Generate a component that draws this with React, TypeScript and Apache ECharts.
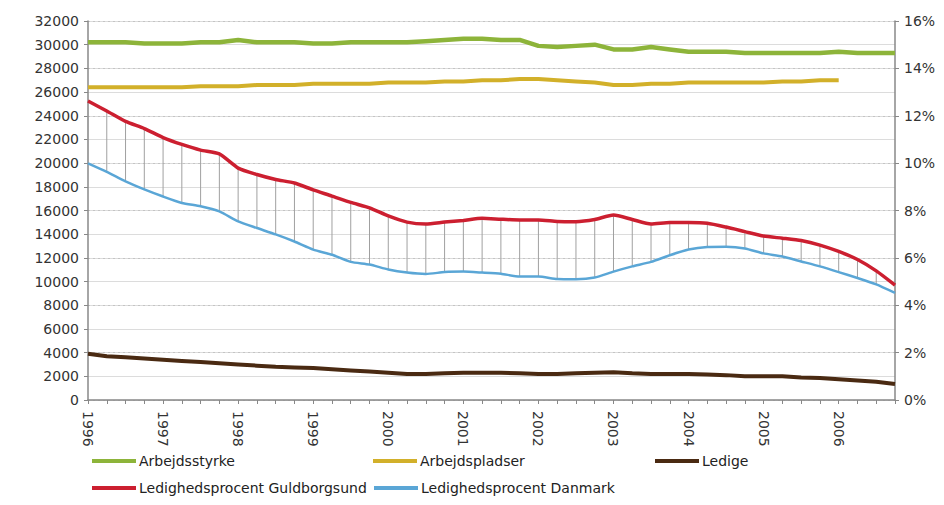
import React, { useEffect, useRef } from "react";
import * as echarts from "echarts";

const YEARS = ["1996", "1997", "1998", "1999", "2000", "2001", "2002", "2003", "2004", "2005", "2006"];
const QUARTERS = ["K1", "K2", "K3", "K4"];
const CATEGORIES = YEARS.flatMap((y) => QUARTERS.map((q) => `${y} ${q}`));

// Left axis (persons)
const ARBEJDSSTYRKE = [
  30200, 30200, 30200, 30100, 30100, 30100, 30200, 30200, 30400, 30200, 30200,
  30200, 30100, 30100, 30200, 30200, 30200, 30200, 30300, 30400, 30500, 30500,
  30400, 30400, 29900, 29800, 29900, 30000, 29600, 29600, 29800, 29600, 29400,
  29400, 29400, 29300, 29300, 29300, 29300, 29300, 29400, 29300, 29300, 29300,
];
const ARBEJDSPLADSER = [
  26400, 26400, 26400, 26400, 26400, 26400, 26500, 26500, 26500, 26600, 26600,
  26600, 26700, 26700, 26700, 26700, 26800, 26800, 26800, 26900, 26900, 27000,
  27000, 27100, 27100, 27000, 26900, 26800, 26600, 26600, 26700, 26700, 26800,
  26800, 26800, 26800, 26800, 26900, 26900, 27000, 27000, null, null, null,
];
const LEDIGE = [
  3900, 3700, 3600, 3500, 3400, 3300, 3200, 3100, 3000, 2900, 2800, 2750, 2700,
  2600, 2500, 2400, 2300, 2200, 2200, 2250, 2300, 2300, 2300, 2250, 2200, 2200,
  2250, 2300, 2350, 2250, 2200, 2200, 2200, 2150, 2100, 2000, 2000, 2000, 1900,
  1850, 1750, 1650, 1550, 1350,
];
// Right axis (percent)
const PCT_GULDBORGSUND = [
  12.62, 12.2, 11.76, 11.46, 11.08, 10.79, 10.55, 10.39, 9.79, 9.52, 9.31, 9.16,
  8.87, 8.61, 8.34, 8.11, 7.77, 7.51, 7.43, 7.51, 7.58, 7.67, 7.63, 7.6, 7.6,
  7.54, 7.53, 7.62, 7.81, 7.62, 7.43, 7.49, 7.49, 7.46, 7.3, 7.11, 6.92, 6.83,
  6.73, 6.54, 6.27, 5.93, 5.45, 4.85,
];
const PCT_DANMARK = [
  9.99, 9.63, 9.23, 8.89, 8.59, 8.32, 8.18, 7.96, 7.54, 7.26, 6.99, 6.69, 6.35,
  6.13, 5.83, 5.72, 5.51, 5.38, 5.32, 5.4, 5.42, 5.38, 5.33, 5.21, 5.21, 5.11,
  5.1, 5.17, 5.42, 5.64, 5.83, 6.11, 6.35, 6.46, 6.47, 6.4, 6.19, 6.06, 5.85,
  5.64, 5.4, 5.15, 4.88, 4.52,
];

const FONT = "DejaVu Sans";

export default function App() {
  const ref = useRef<HTMLDivElement>(null);
  useEffect(() => {
    if (!ref.current) return;
    const chart = echarts.init(ref.current, null, { renderer: "svg" });
    const dropData = CATEGORIES.map((_, i) => [i, PCT_GULDBORGSUND[i], PCT_DANMARK[i]]);
    const legendBase = {
      icon: "rect",
      itemWidth: 44,
      itemHeight: 4,
      padding: 0,
      textStyle: { fontFamily: FONT, fontSize: 14, color: "#222", padding: [0, 0, 0, -2] },
    };
    chart.setOption({
      animation: false,
      backgroundColor: "#ffffff",
      grid: { left: 88, right: 49, top: 21, bottom: 105 },
      legend: [
        { ...legendBase, data: ["Arbejdsstyrke"], left: 92, top: 454 },
        { ...legendBase, data: ["Arbejdspladser"], left: 373, top: 454 },
        { ...legendBase, data: ["Ledige"], left: 655, top: 454 },
        { ...legendBase, data: ["Ledighedsprocent Guldborgsund"], left: 92, top: 481 },
        { ...legendBase, data: ["Ledighedsprocent Danmark"], left: 374, top: 481 },
      ],
      xAxis: {
        type: "category",
        data: CATEGORIES,
        boundaryGap: false,
        axisLine: { lineStyle: { color: "#888", width: 1.5 } },
        axisTick: { show: true, interval: 0, length: 4, lineStyle: { color: "#888" } },
        axisLabel: {
          interval: 3,
          rotate: -90,
          formatter: (v: string) => v.split(" ")[0],
          fontFamily: FONT,
          fontSize: 14,
          color: "#333",
          margin: 11,
        },
        splitLine: { show: false },
      },
      yAxis: [
        {
          type: "value",
          min: 0,
          max: 32000,
          interval: 2000,
          axisLine: { show: true, lineStyle: { color: "#888", width: 1.5 } },
          axisTick: { show: true, length: 4, lineStyle: { color: "#888" } },
          axisLabel: {
            fontFamily: FONT,
            fontSize: 14,
            color: "#333",
            margin: 9,
            formatter: (v: number) => String(v),
          },
          splitLine: { show: true, lineStyle: { color: "#dcdcdc", width: 1 } },
        },
        {
          type: "value",
          min: 0,
          max: 16,
          interval: 2,
          position: "right",
          axisLine: { show: true, lineStyle: { color: "#888", width: 1.5 } },
          axisTick: { show: true, length: 4, lineStyle: { color: "#888" } },
          axisLabel: {
            fontFamily: FONT,
            fontSize: 14,
            color: "#333",
            margin: 9,
            formatter: "{value}%",
          },
          splitLine: { show: true, lineStyle: { color: "#c4c4c4", width: 1, type: [2, 3] } },
        },
      ],
      series: [
        {
          type: "custom",
          name: "drop",
          yAxisIndex: 1,
          data: dropData,
          silent: true,
          renderItem: (_params: any, api: any) => {
            const top = api.coord([api.value(0), api.value(1)]);
            const bot = api.coord([api.value(0), api.value(2)]);
            return {
              type: "line",
              shape: { x1: top[0], y1: top[1], x2: bot[0], y2: bot[1] },
              style: { stroke: "#a0a0a0", lineWidth: 1 },
            };
          },
        },
        {
          name: "Arbejdsstyrke",
          type: "line",
          yAxisIndex: 0,
          data: ARBEJDSSTYRKE,
          symbol: "none",
          lineStyle: { color: "#8db43a", width: 4.5 },
          itemStyle: { color: "#8db43a" },
        },
        {
          name: "Arbejdspladser",
          type: "line",
          yAxisIndex: 0,
          data: ARBEJDSPLADSER,
          symbol: "none",
          lineStyle: { color: "#d2b02a", width: 4 },
          itemStyle: { color: "#d2b02a" },
        },
        {
          name: "Ledige",
          type: "line",
          yAxisIndex: 0,
          data: LEDIGE,
          symbol: "none",
          lineStyle: { color: "#4a2a12", width: 4 },
          itemStyle: { color: "#4a2a12" },
        },
        {
          name: "Ledighedsprocent Guldborgsund",
          type: "line",
          yAxisIndex: 1,
          data: PCT_GULDBORGSUND,
          symbol: "none",
          smooth: 0.2,
          lineStyle: { color: "#cc1f30", width: 3.5 },
          itemStyle: { color: "#cc1f30" },
        },
        {
          name: "Ledighedsprocent Danmark",
          type: "line",
          yAxisIndex: 1,
          data: PCT_DANMARK,
          symbol: "none",
          smooth: 0.2,
          lineStyle: { color: "#5aa6d6", width: 2.5 },
          itemStyle: { color: "#5aa6d6" },
        },
      ],
    });
    return () => chart.dispose();
  }, []);
  return (
    <div
      ref={ref}
      style={{ position: "fixed", left: 0, top: 0, width: 944, height: 505 }}
    />
  );
}
